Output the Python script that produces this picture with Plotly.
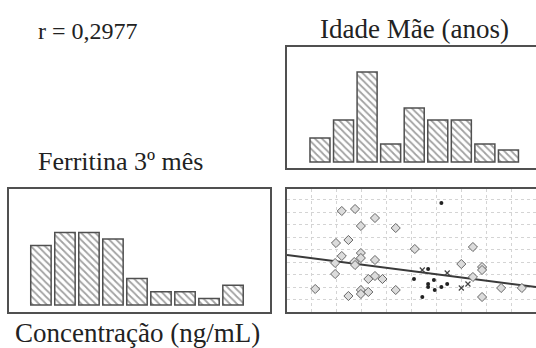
import plotly.graph_objects as go

# ---- data ----
age_bins = [1, 2, 3, 4, 5, 6, 7, 8, 9]
age_counts = [4, 7, 15, 3, 9, 7, 7, 3, 2]

ferr_bins = [1, 2, 3, 4, 5, 6, 7, 8, 9]
ferr_counts = [9, 11, 11, 10, 4, 2, 2, 1, 3]

# scatter: x = Idade Mãe (anos), y = Ferritina (ng/mL)
diam_x = [21.6, 23.2, 25.6, 23.9, 28.1, 20.9, 22.4, 23.9, 21.6, 23.9, 25.6, 20.8,
          23.1, 23.2, 20.8, 24.8, 25.6, 26.5, 18.4, 23.9, 23.9, 24.8, 22.4, 28.1,
          30.4, 37.4, 36.0, 38.5, 38.5, 37.4, 40.8, 43.3, 38.5]
diam_y = [202, 206, 188, 172, 168, 138, 144, 118, 112, 108, 104, 98,
          100, 94, 76, 66, 72, 66, 46, 44, 36, 40, 32, 44,
          126, 130, 96, 90, 84, 70, 48, 48, 30]
dot_x = [33.6, 32.0, 30.3, 32.7, 34.3, 33.6, 32.8, 31.3, 32.0, 32.0]
dot_y = [218, 86, 66, 64, 56, 50, 44, 30, 56, 50]
small_x = [31.3, 34.3, 36.0, 36.8]
small_y = [84, 78, 48, 56]

fit_x = [15, 45]
fit_y = [114, 50]

r_text = "r = 0,2977"
title_age = "Idade Mãe (anos)"
title_ferr = "Ferritina 3º mês"
unit_ferr = "Concentração (ng/mL)"

W, H = 536, 348
FONT = "Liberation Serif"
EDGE = "#505050"

pattern = dict(shape="\\", fgcolor="#444444", bgcolor="white", size=5, solidity=0.35)

fig = go.Figure()
fig.add_trace(go.Bar(x=age_bins, y=age_counts, xaxis="x", yaxis="y",
                     marker=dict(color="white", pattern=pattern,
                                 line=dict(color=EDGE, width=1.5)),
                     showlegend=False))
fig.add_trace(go.Bar(x=ferr_bins, y=ferr_counts, xaxis="x2", yaxis="y2",
                     marker=dict(color="white", pattern=pattern,
                                 line=dict(color=EDGE, width=1.5)),
                     showlegend=False))
fig.add_trace(go.Scatter(x=fit_x, y=fit_y, mode="lines", xaxis="x3", yaxis="y3",
                         line=dict(color="#3a3a3a", width=2), showlegend=False))
fig.add_trace(go.Scatter(x=diam_x, y=diam_y, mode="markers", xaxis="x3", yaxis="y3",
                         marker=dict(symbol="diamond", size=7, color="#dcdcdc",
                                     line=dict(color="#666666", width=1)),
                         showlegend=False))
fig.add_trace(go.Scatter(x=dot_x, y=dot_y, mode="markers", xaxis="x3", yaxis="y3",
                         marker=dict(symbol="circle", size=4, color="#222222"),
                         showlegend=False))
fig.add_trace(go.Scatter(x=small_x, y=small_y, mode="markers", xaxis="x3", yaxis="y3",
                         marker=dict(symbol="x-thin", size=5, color="#444444",
                                     line=dict(color="#444444", width=1.2)),
                         showlegend=False))

def px_x(a, b):
    return [a / W, b / W]

def px_y(top, bottom):
    return [1 - bottom / H, 1 - top / H]

common = dict(showticklabels=False, ticks="", zeroline=False, showline=True,
              linecolor=EDGE, linewidth=2)

fig.update_layout(
    width=W, height=H, margin=dict(l=0, r=0, t=0, b=0),
    paper_bgcolor="white", plot_bgcolor="white", bargap=0.15,
    font=dict(family=FONT, color="#222222"),
    xaxis=dict(domain=px_x(287, 536), range=[-0.40, 10.17], showgrid=False,
               anchor="y", mirror=True, **common),
    yaxis=dict(domain=px_y(47, 168), range=[-1, 19.17], showgrid=False,
               anchor="x", **common),
    xaxis2=dict(domain=px_x(9, 270), range=[-0.33, 10.54], showgrid=False,
                anchor="y2", mirror=True, **common),
    yaxis2=dict(domain=px_y(189, 312), range=[-1.06, 17.58], showgrid=False,
                anchor="x2", mirror=True, **common),
    xaxis3=dict(domain=px_x(287, 536), range=[15, 45], showgrid=True, dtick=3,
                gridcolor="#d4d4d4", griddash="dot", gridwidth=1,
                anchor="y3", mirror=True, **common),
    yaxis3=dict(domain=px_y(189, 312), range=[0, 246], showgrid=True, dtick=25,
                gridcolor="#d4d4d4", griddash="dot", gridwidth=1,
                anchor="x3", **common),
    annotations=[
        dict(text=r_text, x=36 / W, y=1 - 31 / H, xref="paper", yref="paper",
             xanchor="left", yanchor="middle", showarrow=False, font=dict(size=24)),
        dict(text=title_age, x=414 / W, y=1 - 29 / H, xref="paper", yref="paper",
             xanchor="center", yanchor="middle", showarrow=False, font=dict(size=27)),
        dict(text=title_ferr, x=36 / W, y=1 - 161 / H, xref="paper", yref="paper",
             xanchor="left", yanchor="middle", showarrow=False, font=dict(size=26)),
        dict(text=unit_ferr, x=13 / W, y=1 - 333 / H, xref="paper", yref="paper",
             xanchor="left", yanchor="middle", showarrow=False, font=dict(size=27)),
    ],
)

fig.write_html("out.html")
